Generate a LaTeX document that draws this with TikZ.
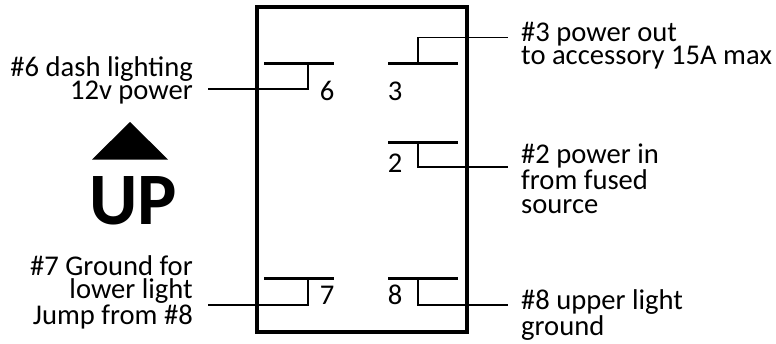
\documentclass[tikz,border=0pt]{standalone}
\usepackage{fontspec}
\setmainfont{Carlito}
\begin{document}
\begin{tikzpicture}[x=1pt,y=-1pt,
  lbl/.style={inner sep=0pt,font=\fontsize{28.6}{23.8}\selectfont},
  lblr/.style={lbl,anchor=north east,align=right},
  lbll/.style={lbl,anchor=north west,align=left},
  num/.style={inner sep=0pt,anchor=base,font=\fontsize{28.6}{24}\selectfont},
  bar/.style={line width=3pt},
  lead/.style={line width=1.2pt}]
\useasboundingbox (0,0) rectangle (776,343);
\draw[line width=4pt] (257,7) rectangle (467,332);
\coordinate (b6a) at (264,63.5); \coordinate (b6b) at (334,63.5); \coordinate (t6) at (308,63.5);
\coordinate (b3a) at (388,63.5); \coordinate (b3b) at (458,63.5); \coordinate (t3) at (418,63.5);
\coordinate (b2a) at (388,142.5); \coordinate (b2b) at (458,142.5); \coordinate (t2) at (418,142.5);
\coordinate (b7a) at (264,278.5); \coordinate (b7b) at (334,278.5); \coordinate (t7) at (308,278.5);
\coordinate (b8a) at (388,278.5); \coordinate (b8b) at (458,278.5); \coordinate (t8) at (418,278.5);
\coordinate (e6) at (208,89); \coordinate (e3) at (508,37.5); \coordinate (e2) at (508,167);
\coordinate (e7) at (208,305); \coordinate (e8) at (508,305);
\foreach \n in {6,3,2,7,8} \draw[bar] (b\n a) -- (b\n b);
\draw[lead] (t6) |- (e6);
\draw[lead] (t3) |- (e3);
\draw[lead] (t2) |- (e2);
\draw[lead] (t7) |- (e7);
\draw[lead] (t8) |- (e8);
\node[num] (n6) at (327,100.5) {6};
\node[num] (n3) at (395,100.5) {3};
\node[num] (n2) at (395,172) {2};
\node[num] (n7) at (327,304) {7};
\node[num] (n8) at (395,304) {8};
\node[lblr] (l6) at (193,56) {\#6 dash lighting\\12v power};
\node[lbll] (l3) at (521,21.5) {\#3 power out\\to accessory 15A max};
\node[lbll] (l2) at (521,144) {\#2 power in\\from fused\\source};
\node[lblr] (l7) at (193,255) {\#7 Ground for\\lower light\\Jump from \#8};
\node[lbll] (l8) at (521,289.5) {\#8 upper light\\ground};
\fill (92,159.5) -- (130,122) -- (168,159.5) -- cycle;
\node[inner sep=0pt,anchor=base,font=\fontsize{74}{74}\selectfont\bfseries] (up) at (133.5,224) {UP};
\end{tikzpicture}
\end{document}
